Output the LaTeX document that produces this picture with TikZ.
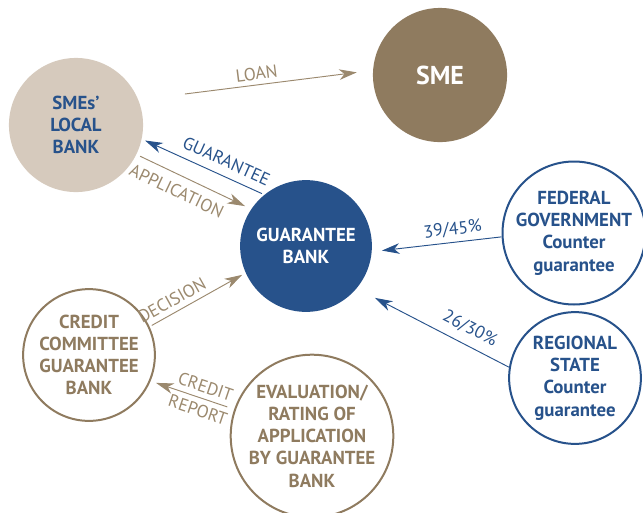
\documentclass[tikz,border=0pt]{standalone}
\usepackage{fontspec}
\setmainfont{PT Sans}
\usetikzlibrary{arrows.meta}

\definecolor{gbblue}{RGB}{39,82,139}
\definecolor{gbbrown}{RGB}{143,123,95}
\definecolor{gbbeige}{RGB}{214,202,189}
\definecolor{arrbrown}{RGB}{155,137,110}

\begin{document}
\begin{tikzpicture}[x=0.85pt, y=-0.85pt,
  bank/.style={circle, minimum size=112pt, inner sep=0pt, outer sep=0pt, align=center,
    font=\bfseries\fontsize{16}{18.9}\selectfont},
  ring/.style={bank, line width=1.7pt, fill=white},
  flow/.style={line width=0.8pt, -{Stealth[length=15pt,width=9pt,inset=4.5pt]}},
  lbl/.style={font=\fontsize{15}{17}\selectfont, sloped, inner sep=0pt}]

\useasboundingbox (0,0) rectangle (643,512);

% --- Bancos y actores ---
\node[bank, minimum size=114pt, fill=gbbrown, text=white,
  font=\bfseries\fontsize{22}{26}\selectfont] (sme) at (440,75) {SME};
\node[bank, minimum size=114pt, fill=gbbeige, text=gbblue] (lbank) at (76,125) {SMEs'\\LOCAL\\BANK};
\node[bank, fill=gbblue, text=white] (gbank) at (306,246) {GUARANTEE\\BANK};

\node[ring, draw=gbblue, text=gbblue] (fed) at (574,233) {FEDERAL\\GOVERNMENT\\Counter\\guarantee};
\node[ring, draw=gbblue, text=gbblue] (reg) at (575,378) {REGIONAL\\STATE\\Counter\\guarantee};

\node[ring, draw=gbbrown, text=gbbrown] (comm) at (89,355) {CREDIT\\COMMITTEE\\GUARANTEE\\BANK};
\node[ring, draw=gbbrown, text=gbbrown] (eval) at (312,436) {EVALUATION/\\RATING OF\\APPLICATION\\BY GUARANTEE\\BANK};

% --- Flujos ---
\draw[flow, arrbrown, shorten <=40pt, shorten >=14pt] (lbank.22) -- node[lbl, above=4pt, pos=0.51] {LOAN} (sme.176);
\draw[flow, gbblue, shorten <=2.5pt, shorten >=3.2pt] (gbank.129) -- node[lbl, above=7pt, pos=0.36] {GUARANTEE} (lbank.-12);
\draw[flow, arrbrown, shorten <=3.6pt, shorten >=6pt] (lbank.-26) -- node[lbl, below=7.5pt, pos=0.41] {APPLICATION} (gbank.146);
\draw[flow, arrbrown, shorten <=3pt, shorten >=3.6pt] (comm.25) -- node[lbl, above=4.5pt, pos=0.3] {DECISION} (gbank.204);
\draw[flow, arrbrown, shorten <=7pt, shorten >=5.7pt] (eval.161) --
  node[lbl, above=4.5pt, pos=0.39] {CREDIT}
  node[lbl, below=4.5pt, pos=0.39] {REPORT} (comm.-23);

% --- Contragarantias ---
\draw[flow, gbblue, shorten <=1pt, shorten >=8.8pt] (fed.183) -- node[lbl, above=4pt, pos=0.37] {39/45\%} (gbank.-5);
\draw[flow, gbblue, shorten <=1pt, shorten >=17.6pt] (reg.171) -- node[lbl, above=7pt, pos=0.31] {26/30\%} (gbank.-40);

\end{tikzpicture}
\end{document}
